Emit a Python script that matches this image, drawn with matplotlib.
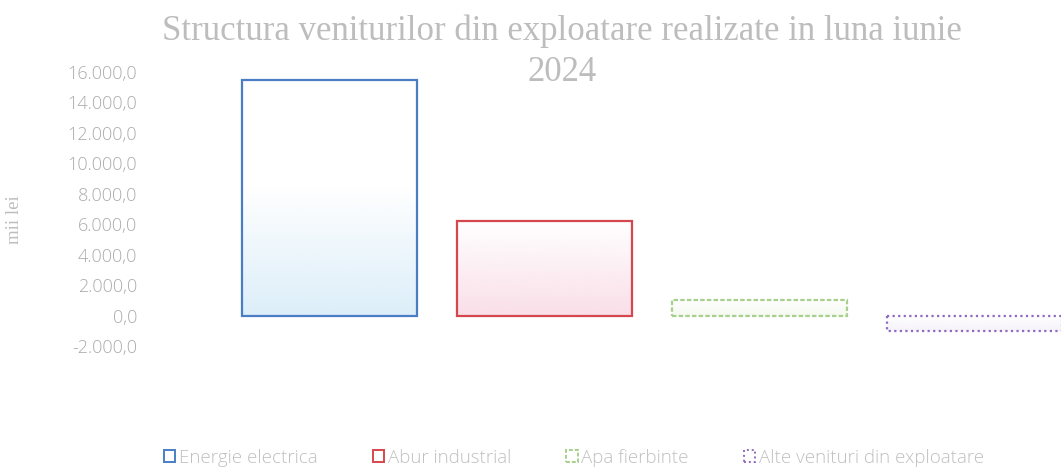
import matplotlib
matplotlib.use("Agg")
import matplotlib.pyplot as plt
import numpy as np
from matplotlib.patches import Patch
from matplotlib.ticker import FuncFormatter

categories = ["Energie electrica", "Abur industrial", "Apa fierbinte", "Alte venituri din exploatare"]
values = [15450.0, 6180.0, 1000.0, -1000.0]
edge_colors = ["#4a7ec4", "#d4474f", "#a8d08d", "#8e6bbf"]
fill_colors = ["#d6ebf8", "#f9d9e4", "#f3f8ee", "#f4f0f9"]
fade_top = [0.55, 1.0, 1.0, 1.0]
line_styles = ["solid", "solid", (0, (2, 1)), (0, (1, 1.5))]
title = "Structura veniturilor din exploatare realizate in luna iunie\n2024"
ylabel = "mii lei"

fig = plt.figure(figsize=(10.61, 4.70), dpi=100)
ax = fig.add_axes([222 / 1061, 1 - 346 / 470, 1 - 222 / 1061, (346 - 72) / 470])

x = np.arange(len(categories))
bars = ax.bar(x, values, width=0.81, facecolor="none", edgecolor=edge_colors, linewidth=1.6)
for b, ls, fc, ft in zip(bars, line_styles, fill_colors, fade_top):
    b.set_linestyle(ls)
    bx, by = b.get_x(), b.get_y()
    w, h = b.get_width(), b.get_height()
    y0, y1 = min(by, by + h), max(by, by + h)
    t = np.linspace(0, 1, 200)
    rgb = np.array(matplotlib.colors.to_rgb(fc))
    img = np.ones((200, 1, 4))
    img[..., :3] = rgb
    a = np.clip(1 - t / ft, 0, 1) * 0.85
    img[..., 3] = a.reshape(-1, 1)
    im = ax.imshow(img, extent=[bx, bx + w, y0, y1], origin="lower", aspect="auto", zorder=1)
    im.set_clip_path(b)
    b.set_zorder(2)

ax.set_xlim(-0.5, -0.5 + (1061 - 222) / 215)
ax.set_ylim(-2000, 16000)
ax.set_yticks(np.arange(-2000, 16001, 2000))


def fmt(v, pos):
    s = f"{abs(v):,.1f}".replace(",", "X").replace(".", ",").replace("X", ".")
    return ("-" if v < 0 else "") + s


ax.yaxis.set_major_formatter(FuncFormatter(fmt))
ax.tick_params(axis="y", length=0, labelsize=13, labelcolor="#ababab", pad=61)
ax.set_xticks([])
for s in ax.spines.values():
    s.set_visible(False)

for lab in ax.get_yticklabels():
    lab.set_fontfamily("Open Sans")
    lab.set_fontweight("light")

fig.text(562 / 1061, 1 - 14 / 470, title, ha="center", va="top", fontsize=25, color="#bdbdbd",
         family="Liberation Serif", linespacing=1.35)
fig.text(0.014, 1 - 220 / 470, ylabel, rotation=90, ha="center", va="center",
         fontsize=13.5, color="#bdbdbd", family="Liberation Serif")

handles = [Patch(facecolor="none", edgecolor=c, linestyle=ls, linewidth=1.4)
           for c, ls in zip(edge_colors, line_styles)]
leg = fig.legend(handles, categories, loc="center", bbox_to_anchor=(574 / 1061, 1 - 458 / 470),
                 ncol=4, frameon=False, handlelength=0.6, handleheight=0.6,
                 handletextpad=0.2, columnspacing=2.95,
                 prop={"family": "Open Sans", "size": 13.5, "weight": "light"})
for t in leg.get_texts():
    t.set_color("#c0c0c0")

fig.savefig("out.png", dpi=100, facecolor="white")
